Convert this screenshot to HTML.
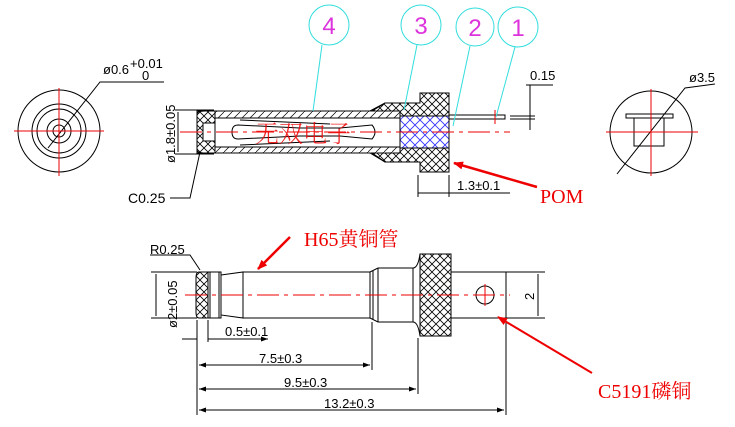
<!DOCTYPE html>
<html><head><meta charset="utf-8"><style>
html,body{margin:0;padding:0;background:#fff;}
svg{display:block;}
text{font-family:"Liberation Sans","Noto Sans CJK SC",sans-serif;}
text.s{font-family:"Liberation Serif","Noto Serif CJK SC",serif;}
</style></head><body>
<svg width="735" height="427" viewBox="0 0 735 427" xmlns="http://www.w3.org/2000/svg">
<defs>
<pattern id="xh" width="8" height="8" patternUnits="userSpaceOnUse">
<path d="M0 0L8 8M8 0L0 8" stroke="#000" stroke-width="0.8"/></pattern>
<pattern id="bh" width="10" height="10" patternUnits="userSpaceOnUse">
<path d="M0 0L10 10M10 0L0 10" stroke="#33f" stroke-width="0.9"/></pattern>
<pattern id="hh" width="8" height="8" patternUnits="userSpaceOnUse">
<path d="M0 8L8 0" stroke="#000" stroke-width="0.7"/></pattern>
<marker id="ar" markerWidth="10" markerHeight="8" refX="9" refY="4" orient="auto" markerUnits="userSpaceOnUse"><path d="M0 0L10 4L0 8z" fill="#e00"/></marker>
<marker id="ak" markerWidth="7" markerHeight="5" refX="7" refY="2.5" orient="auto-start-reverse" markerUnits="userSpaceOnUse"><path d="M0 0L7 2.5L0 5z" fill="#000"/></marker>
</defs>
<g fill="none" stroke="#000" stroke-width="1">
<circle cx="59" cy="131" r="41"/><circle cx="59" cy="131" r="27"/><circle cx="59" cy="131" r="22"/>
<circle cx="59" cy="131" r="12"/><circle cx="59" cy="131" r="6"/>
<path d="M48 148L100 82H164"/>
<path d="M197 111H370L385 103H420V93H449V172H420V162H385L370 153H197Z" fill="url(#hh)"/>
<path d="M215 118H400V147H215Z" fill="#fff"/>
<path d="M385 103H420V93H449V172H420V162H385L372 153H400V147H410V118H400V111H372Z" fill="#fff"/>
<path d="M385 103H420V93H449V172H420V162H385L372 153H400V147H400V118H400V111H372Z" fill="url(#xh)"/>
<rect x="400" y="116" width="49" height="32" fill="#fff"/>
<rect x="400" y="116" width="49" height="32" fill="url(#bh)"/>
<path d="M197 114Q197 111 205 111H215V153H205Q197 153 197 150Z" fill="#fff"/>
<path d="M197 114Q197 111 205 111H215V153H205Q197 153 197 150Z" fill="url(#xh)"/>
<rect x="203" y="123" width="12" height="18" fill="#fff"/>
<path d="M238 125Q232 125 232 132Q232 139 238 139L300 136H340L372 139Q378 132 372 125L340 128H300Z" fill="#fff"/>
<path d="M240 120L330 124M240 145L330 141"/>
<path d="M449 115H505V119H449"/>
<path d="M175 110H214M175 154H214M178 112V152"/>
<path d="M526 85H553M530 110V130M530 85V110M510 116H535M510 119H535"/>
<path d="M418 175V197M449 175V197M418 193H510"/>
<path d="M170 198H190L200 152"/>
<circle cx="651" cy="132" r="41"/>
<rect x="634" y="118" width="30" height="28"/>
<rect x="626" y="114" width="47" height="4"/>
<path d="M617 174L685 88L715 84"/>
<path d="M199 272H208V318H199Q196 318 196 312V278Q196 272 199 272Z" fill="url(#xh)"/>
<path d="M208 272H221V318H208ZM210 272V318M219 272V318"/>
<path d="M221 275L243 272V318L221 315Z"/>
<path d="M243 272H370V318H243Z"/>
<path d="M370 272L378 268H413Q418 268 420 254M370 318L378 322H413Q418 322 420 336M373 271V319M378 268V322"/>
<path d="M413 268V322"/>
<rect x="420" y="254" width="31" height="82" fill="url(#xh)"/>
<path d="M451 272H506V318H451"/>
<circle cx="485" cy="295" r="9"/>
<path d="M151 272H197M151 318H197M156 274V316" />
<path d="M506 272H545M506 318H545M538 274V316"/>
<path d="M197 320V415M208 320V342M372 322V370M418 338V394M506 320V415"/>
<path d="M182 339H197M208 339H268" marker-end="url(#ak)"/>
<path d="M199 365H370" marker-start="url(#ak)" marker-end="url(#ak)"/>
<path d="M199 389H416" marker-start="url(#ak)" marker-end="url(#ak)"/>
<path d="M199 410H504" marker-start="url(#ak)" marker-end="url(#ak)"/>
<path d="M150 255H190L200 270"/>
</g>
<g stroke="#e00" stroke-width="1" fill="none">
<path d="M14 131H104M59 88V176"/>
<path d="M180 132H510" stroke-dasharray="22 5 4 5"/>
<path d="M495 110V124"/>
<path d="M606 132H698M651 89V176"/>
<path d="M185 295H510" stroke-dasharray="22 5 4 5"/>
<path d="M485 284V306"/>
<path d="M537 187L454 163" stroke-width="2.5" marker-end="url(#ar)"/>
<path d="M290 237L258 269" stroke-width="2.5" marker-end="url(#ar)"/>
<path d="M592 373L498 317" stroke-width="2" marker-end="url(#ar)"/>
</g>
<g stroke="#3dd" stroke-width="1" fill="none">
<circle cx="329" cy="25" r="20"/><circle cx="421" cy="25" r="20"/><circle cx="475" cy="27" r="19"/><circle cx="518" cy="27" r="20"/>
<path d="M322 45L313 111M417 45L404 110M470 46L453 126M515 47L496 117"/>
</g>
<g fill="#d3d" font-size="24" text-anchor="middle">
<text x="329" y="34">4</text><text x="421" y="34">3</text><text x="475" y="36">2</text><text x="518" y="36">1</text>
</g>
<g font-size="13" fill="#000">
<text x="103" y="74">ø0.6</text><text x="130" y="68">+0.01</text><text x="142" y="80">0</text>
<text x="128" y="203" font-size="14">C0.25</text>
<text x="530" y="80">0.15</text>
<text x="457" y="190">1.3±0.1</text>
<text x="689" y="82">ø3.5</text>
<text transform="translate(175,163) rotate(-90)">ø1.8±0.05</text>
<text x="150" y="254">R0.25</text>
<text transform="translate(177,328) rotate(-90)">ø2±0.05</text>
<text transform="translate(534,300) rotate(-90)">2</text>
<text x="225" y="336">0.5±0.1</text>
<text x="259" y="363">7.5±0.3</text>
<text x="284" y="387">9.5±0.3</text>
<text x="324" y="408">13.2±0.3</text>
</g>
<g fill="#e00">
<text class="s" x="255" y="142" font-size="24" font-weight="300" opacity="0.85">无双电子</text>
<text class="s" x="540" y="203" font-size="20">POM</text>
<text class="s" x="304" y="246" font-size="20">H65黄铜管</text>
<text class="s" x="598" y="398" font-size="20">C5191磷铜</text>
</g>
</svg>
</body></html>
